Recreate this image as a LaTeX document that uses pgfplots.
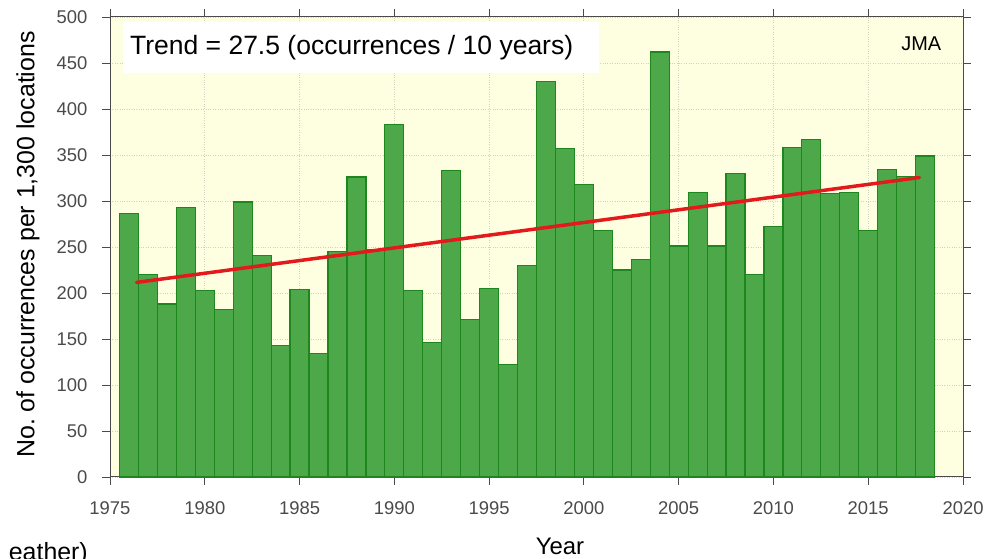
\documentclass[border=0pt]{standalone}
\usepackage{fontspec}
\setmainfont{Liberation Sans}
\usepackage{pgfplots}
\pgfplotsset{compat=1.18}
\frenchspacing
\definecolor{bgy}{HTML}{FEFEE0}
\definecolor{barg}{HTML}{4DA84A}
\definecolor{bare}{HTML}{1C871C}
\definecolor{trendr}{HTML}{E3191C}
\definecolor{tickgray}{HTML}{4A4A4A}
\definecolor{gridc}{HTML}{D2D2BE}
\begin{document}
\begin{tikzpicture}[x=1bp,y=1bp]
\clip (0,0) rectangle (1003,559);
\begin{axis}[
  scale only axis, width=853bp, height=460bp,
  at={(110bp,82bp)}, anchor=south west,
  xmin=1975, xmax=2020, ymin=0, ymax=500,
  xtick distance=5, ytick distance=50,
  tick align=outside, major tick length=8bp,
  xtick pos=both, ytick pos=both,
  xticklabel pos=lower, yticklabel pos=left,
  axis line style={draw=tickgray, line width=1pt},
  tick style={draw=tickgray, line width=0.8pt},
  axis background/.style={fill=bgy},
  grid=major, major grid style={gridc, dotted, line width=0.8pt},
  /pgf/number format/assume math mode=true,
  /pgf/number format/1000 sep={},
  ticklabel style={font=\fontsize{18.5}{20}\selectfont, text=tickgray},
  yticklabel style={xshift=-11bp},
  xticklabel style={yshift=-13bp},
  clip=false,
]
\addplot[ybar, bar width=1, bar shift=0pt, fill=barg, draw=bare, line width=1.2pt] coordinates {
(1976,286) (1977,220) (1978,188) (1979,293) (1980,203) (1981,182) (1982,299)
(1983,241) (1984,143) (1985,204) (1986,134) (1987,245) (1988,326) (1989,247)
(1990,383) (1991,203) (1992,146) (1993,333) (1994,171) (1995,205) (1996,122)
(1997,230) (1998,430) (1999,357) (2000,318) (2001,268) (2002,225) (2003,236)
(2004,462) (2005,251) (2006,309) (2007,251) (2008,330) (2009,220) (2010,272)
(2011,358) (2012,367) (2013,308) (2014,309) (2015,268) (2016,334) (2017,327)
(2018,349)
};
\addplot[trendr, line width=3.5pt, line cap=round] coordinates {(1976.4,211.5) (2017.7,325.5)};
\fill[white] (axis cs:1975.69,439.5) rectangle (axis cs:2000.8,494.9);
\node[anchor=west, inner sep=0pt, font=\fontsize{26.6}{28}\selectfont] at (axis cs:1976.05,467) {Trend = 27.5 (occurrences / 10 years)};
\node[inner sep=0pt, font=\fontsize{20}{22}\selectfont] at (axis cs:2017.8,471) {JMA};
\end{axis}
\node[rotate=90, inner sep=0pt, font=\fontsize{25}{27}\selectfont] at (28,314.5) {No. of occurrences per 1,300 locations};
\node[anchor=base, inner sep=0pt, font=\fontsize{24}{26}\selectfont] at (560,4) {Year};
\node[anchor=base east, inner sep=0pt, font=\fontsize{25}{27}\selectfont] at (88,-2) {eather)};
\end{tikzpicture}
\end{document}
